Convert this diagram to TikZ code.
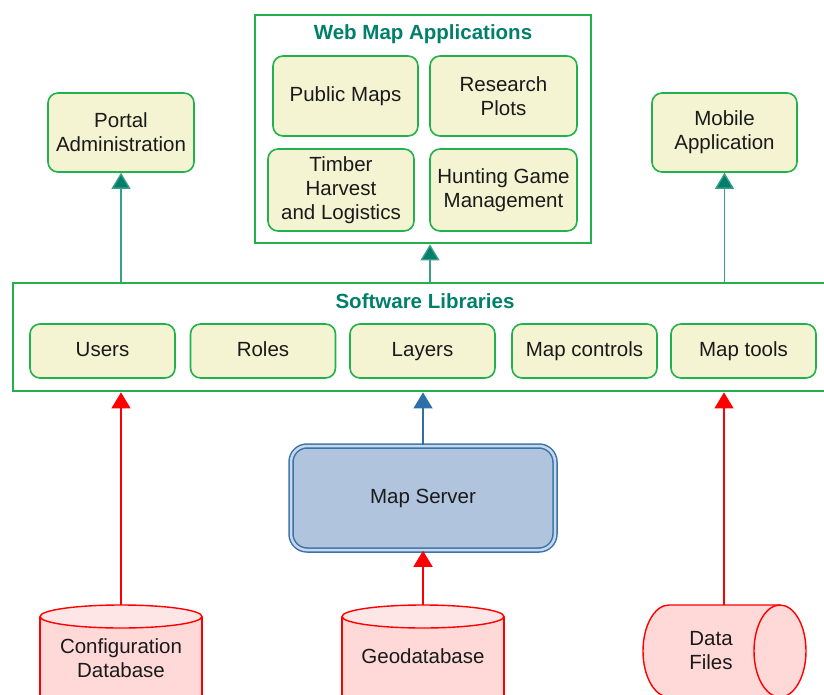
\documentclass[tikz,border=0pt]{standalone}
\usepackage{fontspec}
\setmainfont{Liberation Sans}
\usetikzlibrary{arrows.meta}
\definecolor{grn}{HTML}{22B14C}
\definecolor{beige}{HTML}{F4F4D2}
\definecolor{tealt}{HTML}{00806A}
\definecolor{tealln}{HTML}{3A9E8C}
\definecolor{tealhd}{HTML}{00806A}
\definecolor{srvfill}{HTML}{B0C4DE}
\definecolor{srvdbl}{HTML}{C8D8EC}
\definecolor{srvline}{HTML}{3A73A8}
\definecolor{blueln}{HTML}{2F6EA6}
\definecolor{dbfill}{HTML}{FFD8D8}
\definecolor{dbtop}{HTML}{FFE6E6}
\definecolor{txt}{HTML}{1A1A1A}
\begin{document}
\begin{tikzpicture}[x=1pt,y=-1pt,
  font=\fontsize{20.5}{24}\selectfont,
  appbox/.style={draw=grn, line width=1.6pt, fill=beige, rounded corners=10pt, align=center, inner sep=0pt, text=txt},
  oneline/.style={text height=15pt, text depth=4.5pt},
  groupbox/.style={draw=grn, line width=2.8pt, inner sep=0pt},
  grouptitle/.style={font=\fontsize{20.5}{24}\selectfont\bfseries, text=tealt},
  tarrow/.style={draw=tealln, line width=1.3pt, -{Triangle[width=19pt,length=16pt,fill=tealhd]}},
  barrow/.style={draw=blueln, line width=1.3pt, -{Triangle[width=19pt,length=16pt,fill=blueln]}},
  rarrow/.style={draw=red, line width=1.3pt, -{Triangle[width=19pt,length=16pt,fill=red]}},
  dbstyle/.style={draw=red, line width=1.4pt, fill=dbfill},
  dbtext/.style={align=center, text=txt}
]
\useasboundingbox (0,0) rectangle (824,695);

% Web Map Applications group
\node[groupbox, minimum width=336pt, minimum height=228pt] (web) at (423,129) {};
\node[grouptitle] (webt) at (423,34) {Web Map Applications};
\node[appbox, oneline, minimum width=145pt, minimum height=80pt] (pub) at (345.5,96) {Public Maps};
\node[appbox, minimum width=147pt, minimum height=80pt] (res) at (503.5,96) {Research\\Plots};
\node[appbox, minimum width=146pt, minimum height=82pt] (tim) at (341,190) {Timber\\Harvest\\and Logistics};
\node[appbox, minimum width=147pt, minimum height=82pt] (hun) at (503.5,190) {Hunting Game\\Management};

% Side apps
\node[appbox, minimum width=146pt, minimum height=79pt] (portal) at (121,132.5) {Portal\\Administration};
\node[appbox, minimum width=145pt, minimum height=79pt] (mobile) at (724.5,132.5) {Mobile\\Application};

% Software Libraries group
\node[groupbox, minimum width=815pt, minimum height=108pt] (lib) at (420.5,337) {};
\node[grouptitle] (libt) at (425,301) {Software Libraries};
\node[appbox, oneline, minimum width=145pt, minimum height=54pt] (users) at (102.5,351) {Users};
\node[appbox, oneline, minimum width=145pt, minimum height=54pt] (roles) at (263,351) {Roles};
\node[appbox, oneline, minimum width=145pt, minimum height=54pt] (layers) at (422.5,351) {Layers};
\node[appbox, oneline, minimum width=145pt, minimum height=54pt] (mctl) at (584.5,351) {Map controls};
\node[appbox, oneline, minimum width=145pt, minimum height=54pt] (mtool) at (743.5,351) {Map tools};

% Map server
\node[draw=srvline, line width=1.5pt, double=srvdbl, double distance=2.5pt, fill=srvfill,
      rounded corners=16pt, minimum width=264pt, minimum height=104pt, text=txt, oneline] (srv) at (423,498) {Map Server};

% Databases
\draw[dbstyle] (40,616.5) -- (40,720) -- (202,720) -- (202,616.5);
\draw[draw=red, line width=1.4pt, fill=dbtop] (121,616.5) ellipse [x radius=81, y radius=11.5];
\coordinate (cfgtop) at (121,605);
\node[dbtext] (cfg) at (121,658) {Configuration\\Database};

\draw[dbstyle] (342,616.5) -- (342,720) -- (504,720) -- (504,616.5);
\draw[draw=red, line width=1.4pt, fill=dbtop] (423,616.5) ellipse [x radius=81, y radius=11.5];
\coordinate (geotop) at (423,605);
\node[dbtext, oneline] (geo) at (423,658) {Geodatabase};

\draw[dbstyle] (780,605) -- (669,605) arc[start angle=270, end angle=90, x radius=26, y radius=46] -- (780,697);
\draw[dbstyle] (780,651) ellipse [x radius=26, y radius=46];
\coordinate (dattop) at (724,605);
\node[dbtext] (dat) at (711,651) {Data\\Files};

% Connectors
\draw[tarrow] (lib.north -| portal.south) -- (portal.south);
\draw[tarrow] (lib.north -| mobile.south) -- (mobile.south);
\coordinate (webin) at ([xshift=7pt]web.south);
\draw[tarrow] (lib.north -| webin) -- (webin);
\draw[barrow] (srv.north) -- (lib.south -| srv.north);
\draw[rarrow] (cfgtop) -- (lib.south -| cfgtop);
\draw[rarrow] (geotop) -- (srv.south);
\draw[rarrow] (dattop) -- (lib.south -| dattop);
\end{tikzpicture}
\end{document}
